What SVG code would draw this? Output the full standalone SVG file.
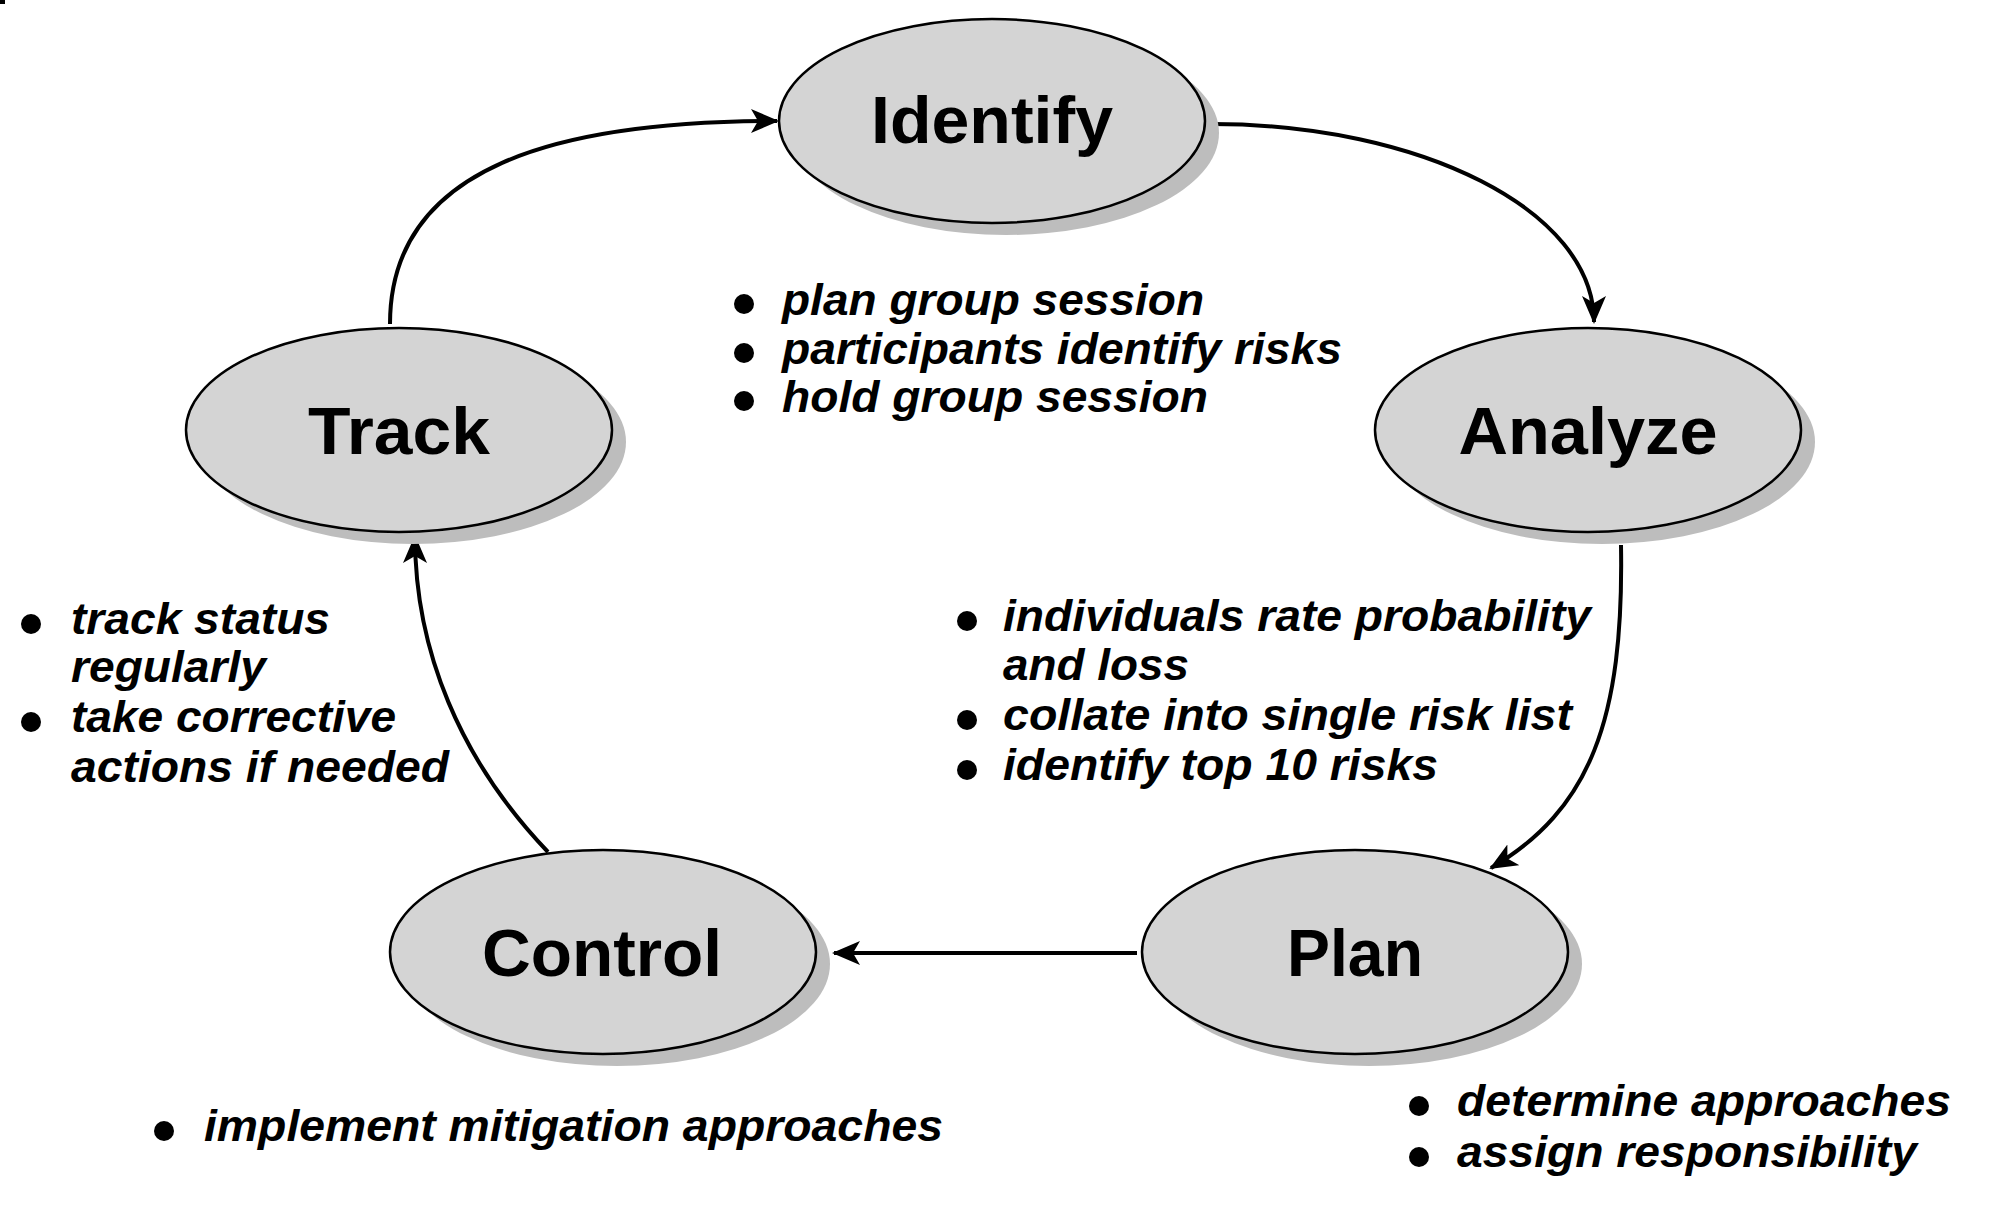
<svg xmlns="http://www.w3.org/2000/svg" width="2004" height="1206" viewBox="0 0 2004 1206">
<defs>
<style>
.shadow{fill:#bdbdbd;stroke:none}
.node{fill:#d4d4d4;stroke:#000;stroke-width:2.5}
.label{font-family:"Liberation Sans",Arial,sans-serif;font-weight:bold;font-size:66px;fill:#000;text-anchor:middle}
.note{font-family:"Liberation Sans",Arial,sans-serif;font-weight:bold;font-style:italic;font-size:45px;fill:#000}
.dot{fill:#000}
.edge{fill:none;stroke:#000;stroke-width:4}
</style>
<marker id="arr" viewBox="0 0 28 24" refX="26" refY="12" markerWidth="28" markerHeight="24" markerUnits="userSpaceOnUse" orient="auto">
<path d="M0,0 L28,12 L0,24 L7,12 Z" fill="#000"/>
</marker>
</defs>
<rect width="2004" height="1206" fill="#fff"/>
<rect x="0" y="0" width="5" height="4" fill="#000"/>

<g id="connectors">
<path class="edge" d="M1212,124 C1420,124 1594,210 1594,322" marker-end="url(#arr)"/>
<path class="edge" d="M1621,545 C1624,720 1590,810 1491,868" marker-end="url(#arr)"/>
<path class="edge" d="M1137,953 L834,953" marker-end="url(#arr)"/>
<path class="edge" d="M548,852 C460,760 415,650 415,537" marker-end="url(#arr)"/>
<path class="edge" d="M390,324 C390,165 560,121 777,121" marker-end="url(#arr)"/>
</g>

<g id="identify">
<ellipse class="shadow" cx="1006" cy="133" rx="213" ry="102"/>
<ellipse class="node" cx="992" cy="121" rx="213" ry="102"/>
<text class="label" x="992" y="143" textLength="242" lengthAdjust="spacingAndGlyphs">Identify</text>
</g>

<g id="analyze">
<ellipse class="shadow" cx="1602" cy="442" rx="213" ry="102"/>
<ellipse class="node" cx="1588" cy="430" rx="213" ry="102"/>
<text class="label" x="1588" y="454" textLength="259" lengthAdjust="spacingAndGlyphs">Analyze</text>
</g>

<g id="plan">
<ellipse class="shadow" cx="1369" cy="964" rx="213" ry="102"/>
<ellipse class="node" cx="1355" cy="952" rx="213" ry="102"/>
<text class="label" x="1355" y="976" textLength="136" lengthAdjust="spacingAndGlyphs">Plan</text>
</g>

<g id="control">
<ellipse class="shadow" cx="617" cy="964" rx="213" ry="102"/>
<ellipse class="node" cx="603" cy="952" rx="213" ry="102"/>
<text class="label" x="602" y="976" textLength="240" lengthAdjust="spacingAndGlyphs">Control</text>
</g>

<g id="track">
<ellipse class="shadow" cx="413" cy="442" rx="213" ry="102"/>
<ellipse class="node" cx="399" cy="430" rx="213" ry="102"/>
<text class="label" x="399" y="454" textLength="182" lengthAdjust="spacingAndGlyphs">Track</text>
</g>

<g id="identify-notes">
<circle class="dot" cx="744" cy="304" r="10"/>
<circle class="dot" cx="744" cy="353" r="10"/>
<circle class="dot" cx="744" cy="401" r="10"/>
<text class="note" x="782" y="315" textLength="422" lengthAdjust="spacingAndGlyphs">plan group session</text>
<text class="note" x="782" y="364" textLength="560" lengthAdjust="spacingAndGlyphs">participants identify risks</text>
<text class="note" x="782" y="412" textLength="426" lengthAdjust="spacingAndGlyphs">hold group session</text>
</g>

<g id="track-notes">
<circle class="dot" cx="31" cy="624" r="10"/>
<circle class="dot" cx="31" cy="722" r="10"/>
<text class="note" x="71" y="634" textLength="259" lengthAdjust="spacingAndGlyphs">track status</text>
<text class="note" x="71" y="682" textLength="195" lengthAdjust="spacingAndGlyphs">regularly</text>
<text class="note" x="71" y="732" textLength="325" lengthAdjust="spacingAndGlyphs">take corrective</text>
<text class="note" x="71" y="782" textLength="378" lengthAdjust="spacingAndGlyphs">actions if needed</text>
</g>

<g id="analyze-notes">
<circle class="dot" cx="967" cy="621" r="10"/>
<circle class="dot" cx="967" cy="720" r="10"/>
<circle class="dot" cx="967" cy="770" r="10"/>
<text class="note" x="1003" y="631" textLength="588" lengthAdjust="spacingAndGlyphs">individuals rate probability</text>
<text class="note" x="1003" y="680" textLength="186" lengthAdjust="spacingAndGlyphs">and loss</text>
<text class="note" x="1003" y="730" textLength="569" lengthAdjust="spacingAndGlyphs">collate into single risk list</text>
<text class="note" x="1003" y="780" textLength="435" lengthAdjust="spacingAndGlyphs">identify top 10 risks</text>
</g>

<g id="plan-notes">
<circle class="dot" cx="1419" cy="1106" r="10"/>
<circle class="dot" cx="1419" cy="1157" r="10"/>
<text class="note" x="1457" y="1116" textLength="494" lengthAdjust="spacingAndGlyphs">determine approaches</text>
<text class="note" x="1457" y="1167" textLength="460" lengthAdjust="spacingAndGlyphs">assign responsibility</text>
</g>

<g id="control-notes">
<circle class="dot" cx="164" cy="1131" r="10"/>
<text class="note" x="204" y="1141" textLength="739" lengthAdjust="spacingAndGlyphs">implement mitigation approaches</text>
</g>
</svg>
